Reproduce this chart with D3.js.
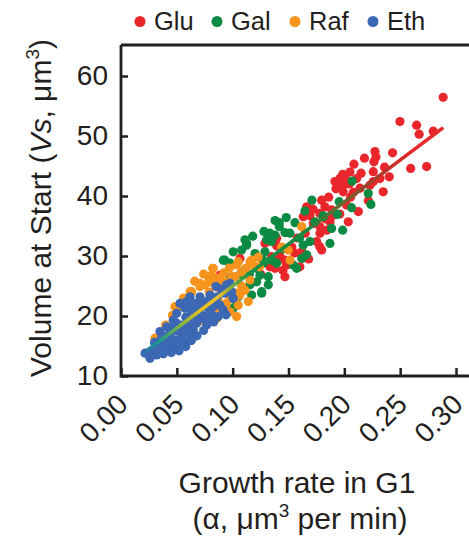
<!DOCTYPE html>
<html><head><meta charset="utf-8">
<script src="https://cdn.jsdelivr.net/npm/d3@7"></script>
<style>body{margin:0;background:#fff}svg{display:block}text{font-family:"Liberation Sans",Arial,sans-serif;fill:#231f20}</style>
</head><body><svg id="c" width="469" height="541"></svg>
<script>
const seriesNames = ["Glu","Gal","Raf","Eth"];
const seriesColors = ["#e8262b","#0a8a43","#f7941d","#3c67b3"];
const xTicks = [0,0.05,0.10,0.15,0.20,0.25,0.30];
const xTickLabels = ["0.00","0.05","0.10","0.15","0.20","0.25","0.30"];
const yTicks = [10,20,30,40,50,60];
const glu = [[0.2885,56.45],[0.2498,52.4],[0.2647,51.8],[0.267,50.3],[0.2796,50.8],[0.2274,47.4],[0.2283,46.5],[0.2265,45.7],[0.2432,47.2],[0.2259,44.05],[0.2594,44.6],[0.2737,44.9],[0.2402,43.2],[0.2086,45.3],[0.196,42.9],[0.2005,43.2],[0.211,42.9],[0.1916,42.4],[0.2319,42.9],[0.2229,41.8],[0.2348,40.7],[0.214,41.3],[0.199,40.7],[0.1663,38.2],[0.1797,39.3],[0.1826,38.2],[0.178,37.1],[0.2125,37.4],[0.202,38.5],[0.1886,37.7],[0.1692,36.7],[0.1871,35.7],[0.2035,35.7],[0.1722,35.4],[0.1782,33.8],[0.1842,34.3],[0.1752,32.4],[0.1797,31.0],[0.1618,30.7],[0.1423,29.9],[0.1289,32.1],[0.1394,31.7],[0.1602,28.2],[0.1394,32.95],[0.1065,29.6],[0.1334,28.2],[0.1483,28.5],[0.1468,26.55],[0.1379,27.95],[0.1468,29.3],[0.1632,36.55],[0.178,34.9],[0.178,31.55],[0.0886,26.8],[0.1349,29.9],[0.0767,19.05],[0.2055,39.8],[0.1925,41.2],[0.2045,42.0],[0.1985,43.6],[0.158,33.0],[0.19,36.8],[0.1555,30.5],[0.2215,39.2],[0.2,42.0],[0.205,44.0],[0.215,43.8],[0.195,41.9],[0.186,39.8],[0.172,37.8],[0.208,40.6],[0.218,46.3],[0.183,36.2],[0.165,33.8],[0.153,31.5],[0.168,29.5],[0.145,27.6],[0.125,27.0],[0.226,42.4],[0.236,44.8],[0.196,37.0]];
const gal = [[0.207,42.5],[0.2214,40.4],[0.2238,38.6],[0.171,39.3],[0.1647,37.5],[0.1954,39.05],[0.2065,38.05],[0.1937,36.95],[0.1811,36.7],[0.1737,35.7],[0.1417,35.55],[0.1417,34.9],[0.1558,35.55],[0.1886,34.6],[0.1871,32.1],[0.1632,31.8],[0.1692,32.4],[0.1618,29.6],[0.1663,30.2],[0.1468,33.9],[0.1513,33.8],[0.1379,33.5],[0.1304,32.7],[0.1349,32.4],[0.1289,30.7],[0.1274,29.3],[0.1349,29.3],[0.111,32.7],[0.1125,31.8],[0.1543,28.5],[0.1005,30.7],[0.0916,29.3],[0.0976,28.8],[0.111,27.7],[0.1215,27.95],[0.1274,28.8],[0.1394,28.8],[0.1244,26.8],[0.1319,26.55],[0.1215,25.7],[0.126,23.8],[0.1319,25.2],[0.1155,25.2],[0.117,23.5],[0.1811,36.55],[0.1985,34.3],[0.1573,27.95],[0.126,24.05],[0.1005,21.3],[0.1021,22.7],[0.105,23.2],[0.1334,33.8],[0.093,29.3],[0.1125,32.1],[0.118,33.3],[0.128,34.1],[0.138,35.9],[0.148,36.4],[0.16,33.0],[0.145,31.2],[0.12,30.4],[0.107,27.0],[0.115,27.0],[0.098,26.5],[0.108,31.0]];
const raf = [[0.0304,16.3],[0.0618,24.05],[0.0812,26.8],[0.0752,25.2],[0.0886,24.6],[0.1021,26.55],[0.0946,22.1],[0.0857,19.6],[0.0976,20.7],[0.0692,19.05],[0.0871,22.7],[0.1021,22.95],[0.1036,19.9],[0.0513,21.45],[0.0483,21.55],[0.0782,26.55],[0.0871,26.3],[0.0707,25.45],[0.0961,25.7],[0.0821,27.95],[0.105,29.05],[0.1155,29.05],[0.1513,29.3],[0.1155,26.0],[0.1036,23.8],[0.0901,21.55],[0.1618,34.9],[0.1498,31.0],[0.1439,31.5],[0.1229,29.8],[0.117,29.3],[0.1185,28.5],[0.1036,28.5],[0.0707,24.9],[0.0797,25.7],[0.0901,26.0],[0.1065,23.5],[0.114,22.4],[0.105,21.8],[0.0931,21.0],[0.111,24.3],[0.0633,24.05],[0.0991,26.55],[0.0826,27.95],[0.056,23.0],[0.066,25.8],[0.074,27.0],[0.079,24.0],[0.084,25.4],[0.092,27.2],[0.097,28.0],[0.108,27.3],[0.112,28.0],[0.124,28.2],[0.097,23.5],[0.085,21.3],[0.04,18.5],[0.046,20.1],[0.108,25.0]];
const eth = [[0.0215,13.8],[0.026,12.95],[0.032,13.5],[0.0364,14.3],[0.0379,15.7],[0.0349,17.4],[0.0439,16.55],[0.0454,15.2],[0.0499,16.0],[0.0543,17.1],[0.0588,15.7],[0.0528,15.2],[0.0409,18.2],[0.0468,19.3],[0.0499,20.45],[0.0528,22.1],[0.0573,21.3],[0.0633,20.7],[0.0662,22.1],[0.0603,19.3],[0.0677,18.8],[0.0647,17.7],[0.0722,19.6],[0.0767,18.5],[0.0782,21.3],[0.0842,22.1],[0.0916,21.0],[0.0871,19.9],[0.0797,22.7],[0.0976,25.45],[0.0931,23.8],[0.0707,23.2],[0.0618,23.2],[0.0528,17.7],[0.0409,14.6],[0.032,14.9],[0.0946,25.2],[0.0991,24.05],[0.1005,22.95],[0.0886,21.8],[0.0797,23.5],[0.0588,22.4],[0.0647,21.55],[0.0826,21.55],[0.045,18.0],[0.055,18.5],[0.062,17.0],[0.07,20.5],[0.075,20.0],[0.058,19.8],[0.05,18.8],[0.042,15.8],[0.028,14.2],[0.072,22.0],[0.083,19.0],[0.055,16.2],[0.048,14.5],[0.038,13.7],[0.03,15.6],[0.036,16.2],[0.044,17.2],[0.049,17.5],[0.057,18.0],[0.061,18.6],[0.066,19.4],[0.071,21.2],[0.076,22.4],[0.081,20.3],[0.086,23.2],[0.09,24.5],[0.094,20.2],[0.068,16.7],[0.063,15.9],[0.058,14.9],[0.052,14.2],[0.045,13.9],[0.04,16.6],[0.085,24.9],[0.078,19.3],[0.074,17.6]];
const fitLine = [[0.02,13.8],[0.2886,51.4]];

const svg = d3.select("#c");
const x = d3.scaleLinear().domain([0,0.3]).range([121,456]);
const y = d3.scaleLinear().domain([10,65]).range([376,46]);

const grad = svg.append("defs").append("linearGradient").attr("id","g")
  .attr("gradientUnits","userSpaceOnUse")
  .attr("x1",x(fitLine[0][0])).attr("y1",y(fitLine[0][1]))
  .attr("x2",x(fitLine[1][0])).attr("y2",y(fitLine[1][1]));
const stops = [[0.02,"#2f6db3"],[0.035,"#1c9a8c"],[0.055,"#8ab83a"],[0.072,"#ecc01e"],[0.088,"#e8c02a"],[0.102,"#6aa840"],[0.115,"#159048"],[0.165,"#168a40"],[0.195,"#6a6a30"],[0.215,"#8c4a2a"],[0.24,"#c0302a"],[0.26,"#e8282a"],[0.29,"#e8282a"]];
stops.forEach(s=>grad.append("stop").attr("offset",(s[0]-0.02)/(0.2886-0.02)).attr("stop-color",s[1]));

const all = [glu,gal,raf,eth];
all.forEach((d,i)=>{
  svg.append("g").selectAll("circle").data(d).join("circle")
    .attr("cx",p=>x(p[0])).attr("cy",p=>y(p[1])).attr("r",4.6)
    .attr("fill",seriesColors[i]);
});
svg.append("path").datum(fitLine).attr("d",d3.line().x(p=>x(p[0])).y(p=>y(p[1])))
  .attr("stroke","url(#g)").attr("stroke-width",3.6).attr("fill","none");

const yAxis = d3.axisLeft(y).tickValues(yTicks).tickSize(-7).tickPadding(13).tickFormat(d3.format("d"));
const gy = svg.append("g").attr("transform","translate(121,0)").call(yAxis);
gy.select(".domain").remove();
gy.selectAll(".tick line").attr("stroke","#231f20").attr("stroke-width",2.5);
gy.selectAll(".tick text").attr("font-size",28).attr("font-family","Liberation Sans, Arial, sans-serif").attr("fill","#231f20");

const xAxis = d3.axisBottom(x).tickValues(xTicks).tickSize(-8).tickFormat((d,i)=>xTickLabels[i]);
const gx = svg.append("g").attr("transform","translate(0,376)").call(xAxis);
gx.select(".domain").remove();
gx.selectAll(".tick line").attr("stroke","#231f20").attr("stroke-width",2.5);
gx.selectAll(".tick text").attr("font-size",28).attr("font-family","Liberation Sans, Arial, sans-serif").attr("fill","#231f20")
  .attr("text-anchor","end").attr("y",0).attr("dy",0)
  .attr("transform","translate(8,30) rotate(-45)");

svg.append("path").attr("d","M121,45V376H469").attr("stroke","#231f20").attr("stroke-width",2.8).attr("fill","none");
svg.append("path").attr("d","M121,45H469").attr("stroke","#231f20").attr("stroke-width",2.8).attr("fill","none");

const legX = [140,217,295,373];
seriesNames.forEach((n,i)=>{
  svg.append("circle").attr("cx",legX[i]).attr("cy",21.5).attr("r",5.5).attr("fill",seriesColors[i]);
  svg.append("text").attr("x",legX[i]+14).attr("y",30).attr("font-size",25.5).text(n);
});

const xt = svg.append("text").attr("text-anchor","middle").attr("font-size",30);
xt.append("tspan").attr("x",297).attr("y",493).text("Growth rate in G1");
const l2 = svg.append("text").attr("text-anchor","middle").attr("font-size",30).attr("x",300).attr("y",529);
l2.append("tspan").text("(α, μm");
l2.append("tspan").attr("font-size",19).attr("dy",-12).text("3");
l2.append("tspan").attr("dy",12).text(" per min)");

const yt = svg.append("text").attr("text-anchor","middle").attr("font-size",30)
  .attr("transform","translate(51,208) rotate(-90)");
yt.append("tspan").text("Volume at Start (");
yt.append("tspan").attr("font-style","italic").text("Vs");
yt.append("tspan").text(", μm");
yt.append("tspan").attr("font-size",19).attr("dy",-12).text("3");
yt.append("tspan").attr("dy",12).text(")");
</script></body></html>
